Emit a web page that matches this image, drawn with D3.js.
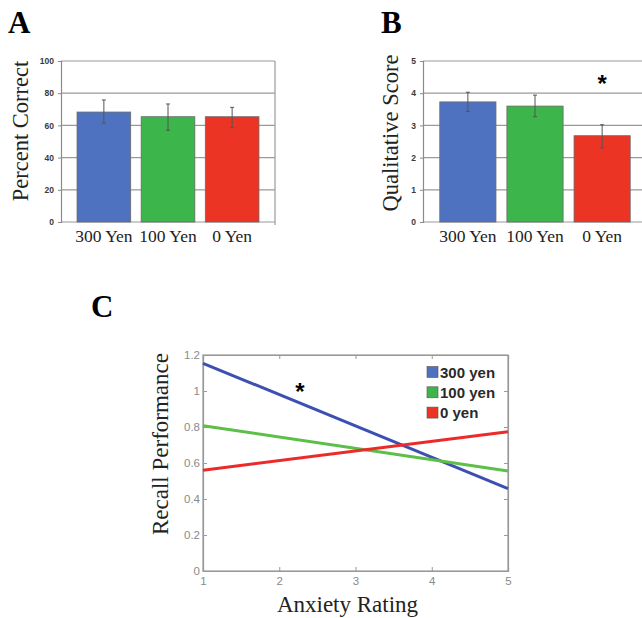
<!DOCTYPE html>
<html>
<head>
<meta charset="utf-8">
<script src="https://cdn.jsdelivr.net/npm/d3@7"></script>
<style>
  body { margin: 0; background: #fff; }
  svg { display: block; }
</style>
</head>
<body>
<div id="chart"></div>
<script>
// ---- data ----
const groups = ["300 Yen", "100 Yen", "0 Yen"];
const barColors = ["#4f72c0", "#3cb54a", "#ec3425"];

const percentCorrect = [68.3, 65.4, 65.4];
const percentLow = [61.5, 57.0, 58.6];
const percentHigh = [75.8, 73.3, 71.2];
const percentTicks = [0, 20, 40, 60, 80, 100];

const qualScore = [3.73, 3.60, 2.68];
const qualLow = [3.43, 3.27, 2.30];
const qualHigh = [4.03, 3.94, 3.02];
const qualTicks = [0, 1, 2, 3, 4, 5];

const anxiety = [1, 5];
const recallSeries = ["300 yen", "100 yen", "0 yen"];
const recall300 = [1.154, 0.458];
const recall100 = [0.807, 0.556];
const recall0 = [0.560, 0.773];
const lineColors = ["#3c4fb2", "#5cbf48", "#ec2a2a"];
const recallTicks = [0, 0.2, 0.4, 0.6, 0.8, 1, 1.2];
const anxietyTicks = [1, 2, 3, 4, 5];

const svg = d3.select("#chart").append("svg")
    .attr("width", 642)
    .attr("height", 618);

const serif = "'Liberation Serif', 'Times New Roman', serif";
const sans = "'Liberation Sans', Arial, sans-serif";

// panel letter
const letter = function (txt, x, y) {
    svg.append("text")
        .attr("x", x).attr("y", y)
        .style("font-family", serif)
        .style("font-weight", "700")
        .style("font-size", "31px")
        .text(txt);
};

// bar chart with error bars (panels A and B)
const barPanel = function (props) {
    const g = svg.append("g");
    const x = d3.scaleBand()
        .domain(groups)
        .range([props.left, props.right])
        .paddingInner(0.163)
        .paddingOuter(0.25);
    const y = d3.scaleLinear()
        .domain([0, props.ticks[props.ticks.length - 1]])
        .range([222, 61]);

    // grid lines
    g.selectAll(".grid").data(props.ticks).join("line")
        .attr("x1", props.left).attr("x2", props.right)
        .attr("y1", d => y(d)).attr("y2", d => y(d))
        .attr("stroke", "#9a9a9a").attr("stroke-width", 1.2);
    // frame right side
    g.append("line")
        .attr("x1", props.right).attr("x2", props.right)
        .attr("y1", y.range()[1]).attr("y2", y.range()[0] + 3)
        .attr("stroke", "#9a9a9a").attr("stroke-width", 1.2);

    const yAxis = d3.axisLeft(y).tickValues(props.ticks).tickSize(3).tickPadding(4).tickFormat(d3.format("d"));
    const ya = g.append("g")
        .attr("transform", `translate(${props.left},0)`)
        .call(yAxis);
    ya.select(".domain").attr("stroke", "#8a8a8a").attr("stroke-width", 1.2);
    ya.selectAll(".tick line").attr("stroke", "#8a8a8a");
    ya.selectAll("text")
        .style("font-family", sans)
        .style("font-weight", "700")
        .style("font-size", "8.5px")
        .attr("fill", "#3a3a3a");

    // bars
    g.selectAll(".bar").data(props.values).join("rect")
        .attr("x", (d, i) => x(groups[i]))
        .attr("width", x.bandwidth())
        .attr("y", d => y(d))
        .attr("height", d => y(0) - y(d))
        .attr("fill", (d, i) => barColors[i])
        .attr("stroke", "#6a6a6a")
        .attr("stroke-width", 0.8);

    // error bars
    const eb = g.selectAll(".err").data(props.values).join("g")
        .attr("stroke", "#555").attr("stroke-width", 1);
    eb.append("line")
        .attr("x1", (d, i) => x(groups[i]) + x.bandwidth() / 2)
        .attr("x2", (d, i) => x(groups[i]) + x.bandwidth() / 2)
        .attr("y1", (d, i) => y(props.low[i]))
        .attr("y2", (d, i) => y(props.high[i]));
    eb.append("line")
        .attr("x1", (d, i) => x(groups[i]) + x.bandwidth() / 2 - 2)
        .attr("x2", (d, i) => x(groups[i]) + x.bandwidth() / 2 + 2)
        .attr("y1", (d, i) => y(props.high[i]))
        .attr("y2", (d, i) => y(props.high[i]));
    eb.append("line")
        .attr("x1", (d, i) => x(groups[i]) + x.bandwidth() / 2 - 2)
        .attr("x2", (d, i) => x(groups[i]) + x.bandwidth() / 2 + 2)
        .attr("y1", (d, i) => y(props.low[i]))
        .attr("y2", (d, i) => y(props.low[i]));

    // category labels
    g.selectAll(".cat").data(groups).join("text")
        .attr("x", d => x(d) + x.bandwidth() / 2)
        .attr("y", 242)
        .attr("text-anchor", "middle")
        .style("font-family", serif)
        .style("font-size", "17.5px")
        .attr("fill", "#222")
        .text(d => d);

    // y label
    svg.append("text")
        .attr("transform", `translate(${props.labelX},${props.labelY}) rotate(-90)`)
        .attr("text-anchor", "middle")
        .style("font-family", serif)
        .style("font-size", "22.5px")
        .attr("fill", "#222")
        .text(props.label);
    return {x: x, y: y};
};

letter("A", 8, 33);
barPanel({
    left: 61, right: 275, ticks: percentTicks,
    values: percentCorrect, low: percentLow, high: percentHigh,
    label: "Percent Correct", labelX: 28, labelY: 131
});

letter("B", 381, 33);
const pB = barPanel({
    left: 423, right: 647, ticks: qualTicks,
    values: qualScore, low: qualLow, high: qualHigh,
    label: "Qualitative Score", labelX: 398, labelY: 133
});
svg.append("text")
    .attr("x", pB.x("0 Yen") + pB.x.bandwidth() / 2)
    .attr("y", 92)
    .attr("text-anchor", "middle")
    .style("font-family", sans)
    .style("font-weight", "700")
    .style("font-size", "24px")
    .text("*");

// ---- panel C ----
letter("C", 91, 317);
const cx = d3.scaleLinear().domain([1, 5]).range([203, 508]);
const cy = d3.scaleLinear().domain([0, 1.2]).range([571, 355]);
const gC = svg.append("g");

gC.append("rect")
    .attr("x", cx(1)).attr("y", cy(1.2))
    .attr("width", cx(5) - cx(1)).attr("height", cy(0) - cy(1.2))
    .attr("fill", "none").attr("stroke", "#999").attr("stroke-width", 1.2);

gC.append("g")
    .attr("transform", `translate(0,${cy(0)})`)
    .call(d3.axisBottom(cx).tickValues(anxietyTicks).tickSize(-4).tickPadding(6).tickFormat(d3.format("d")));
gC.append("g")
    .attr("transform", `translate(${cx(1)},0)`)
    .call(d3.axisLeft(cy).tickValues(recallTicks).tickSize(-4).tickPadding(3).tickFormat(d => d));
// inner ticks on top and right edges
gC.append("g").attr("transform", `translate(0,${cy(1.2)})`)
    .call(d3.axisTop(cx).tickValues(anxietyTicks).tickSize(-4).tickFormat(""));
gC.append("g").attr("transform", `translate(${cx(5)},0)`)
    .call(d3.axisRight(cy).tickValues(recallTicks).tickSize(-4).tickFormat(""));
gC.selectAll(".domain").attr("stroke", "#999").attr("stroke-width", 1.2);
gC.selectAll(".tick line").attr("stroke", "#999");
gC.selectAll(".tick text")
    .style("font-family", sans)
    .style("font-size", "11.5px")
    .attr("fill", "#8a8a8a");

const seriesValues = [recall300, recall100, recall0];
const line = d3.line()
    .x((d, i) => cx(anxiety[i]))
    .y(d => cy(d));
gC.selectAll(".recall").data(seriesValues).join("path")
    .attr("d", d => line(d))
    .attr("fill", "none")
    .attr("stroke", (d, i) => lineColors[i])
    .attr("stroke-width", 3);

// legend
const leg = gC.selectAll(".leg").data(recallSeries).join("g")
    .attr("transform", (d, i) => `translate(427,${372 + i * 20.3})`);
leg.append("rect")
    .attr("x", 0).attr("y", -5.5)
    .attr("width", 11).attr("height", 11)
    .attr("fill", (d, i) => barColors[i])
    .attr("stroke", "#555").attr("stroke-width", 0.6);
leg.append("text")
    .attr("x", 13).attr("y", 5.5)
    .style("font-family", sans)
    .style("font-weight", "700")
    .style("font-size", "15px")
    .attr("fill", "#2a2a2a")
    .text(d => d);

gC.append("text")
    .attr("x", cx(2.27)).attr("y", 400)
    .attr("text-anchor", "middle")
    .style("font-family", sans)
    .style("font-weight", "700")
    .style("font-size", "24px")
    .text("*");

svg.append("text")
    .attr("transform", `translate(168,444) rotate(-90)`)
    .attr("text-anchor", "middle")
    .style("font-family", serif)
    .style("font-size", "23px")
    .attr("fill", "#222")
    .text("Recall Performance");
svg.append("text")
    .attr("x", (cx(1) + cx(5)) / 2 - 8)
    .attr("y", 612)
    .attr("text-anchor", "middle")
    .style("font-family", serif)
    .style("font-size", "23px")
    .attr("fill", "#222")
    .text("Anxiety Rating");
</script>
</body>
</html>
